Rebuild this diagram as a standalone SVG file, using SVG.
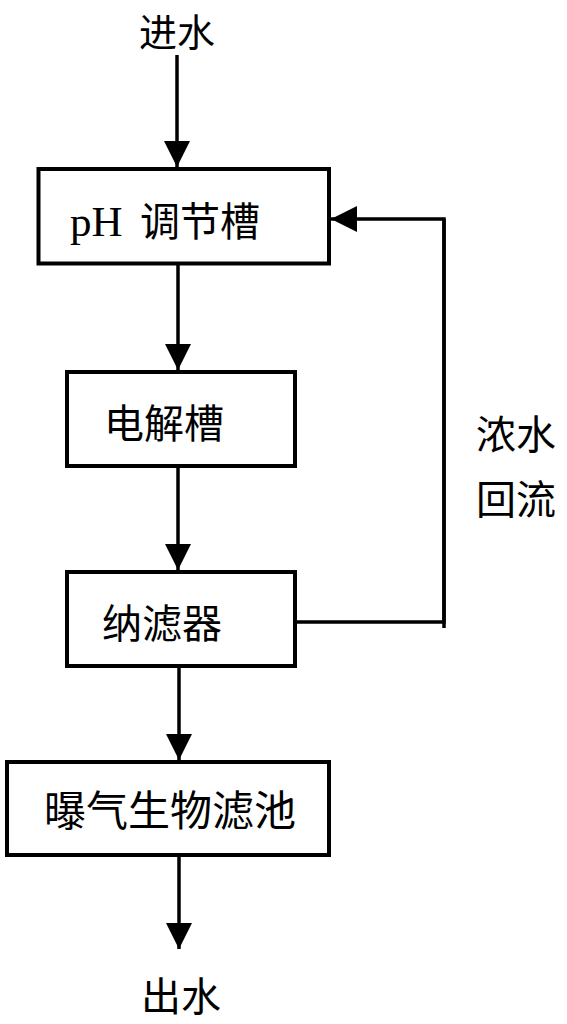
<svg xmlns="http://www.w3.org/2000/svg" width="567" height="1024" viewBox="0 0 567 1024">
<style>
.box{fill:#fff;stroke:#000;stroke-width:4}
.ln{fill:none;stroke:#000;stroke-width:3.5}
.t{font-family:"Noto Sans CJK SC","Noto Sans",sans-serif;font-size:40px;fill:#000}
.lat{font-family:"Liberation Serif",serif;font-size:43px}
</style>
<defs>
<marker id="ah" markerUnits="userSpaceOnUse" markerWidth="26" markerHeight="26" viewBox="0 0 24 24" refX="24" refY="12" orient="auto">
<path d="M0,0 L24,12 L0,24 Z" fill="#000"/>
</marker>
</defs>
<g id="connectors">
<line class="ln" x1="177" y1="55" x2="177" y2="167" marker-end="url(#ah)"/>
<line class="ln" x1="178" y1="265" x2="178" y2="370" marker-end="url(#ah)"/>
<line class="ln" x1="178" y1="468" x2="178" y2="570" marker-end="url(#ah)"/>
<line class="ln" x1="179" y1="668" x2="179" y2="760" marker-end="url(#ah)"/>
<line class="ln" x1="179" y1="857" x2="179" y2="949" marker-end="url(#ah)"/>
<polyline class="ln" points="297,622 444,622 444,219 331,219" marker-end="url(#ah)"/>
<line class="ln" x1="444" y1="219" x2="444" y2="628"/>
</g>
<g id="in"><text class="t" x="177" y="46" text-anchor="middle" style="font-size:38px">进水</text></g>
<g id="ph">
<rect class="box" x="38.5" y="169" width="290.5" height="94.5"/>
<text class="t" y="236"><tspan class="lat" x="70">pH</tspan><tspan x="140">调节槽</tspan></text>
</g>
<g id="electrolysis">
<rect class="box" x="67" y="372" width="228" height="94"/>
<text class="t" x="164" y="438" text-anchor="middle">电解槽</text>
</g>
<g id="nanofilter">
<rect class="box" x="67" y="572" width="228" height="94"/>
<text class="t" x="162" y="638" text-anchor="middle">纳滤器</text>
</g>
<g id="baf">
<rect class="box" x="7" y="762" width="322" height="93"/>
<text class="t" x="170" y="826" text-anchor="middle" style="font-size:42px">曝气生物滤池</text>
</g>
<g id="out"><text class="t" x="181" y="1011" text-anchor="middle">出水</text></g>
<g id="recycle-label">
<text class="t" x="516" y="449" text-anchor="middle">浓水</text>
<text class="t" x="516" y="514" text-anchor="middle">回流</text>
</g>
</svg>
